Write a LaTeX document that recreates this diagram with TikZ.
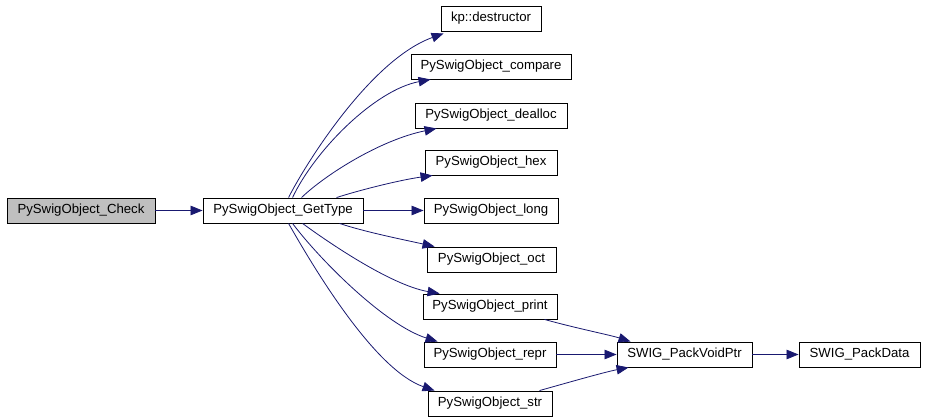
\documentclass[tikz,border=0pt]{standalone}
\usepackage{fontspec}
\setmainfont{Liberation Sans}
\usetikzlibrary{arrows.meta}
\definecolor{edgeblue}{HTML}{191970}
\definecolor{hlgray}{HTML}{BFBFBF}
\begin{document}
\begin{tikzpicture}[x=1pt,y=-1pt,
  fbox/.style={draw=black,line width=0.9pt,fill=white,inner sep=0pt,minimum height=25pt,
    font=\fontsize{13.2}{15}\selectfont},
  edge/.style={draw=edgeblue,line width=0.8pt,-{Triangle[length=12pt,width=9.5pt,fill=edgeblue]}}]
\useasboundingbox[fill=white] (0,0) rectangle (928,419);
\node[fbox,fill=hlgray,minimum width=148pt] (chk) at (81,210.5) {PySwigObject\_Check};
\node[fbox,minimum width=160pt] (gt) at (283,210.5) {PySwigObject\_GetType};
\node[fbox,minimum width=100pt] (dst) at (491,18.5) {kp::destructor};
\node[fbox,minimum width=160pt] (cmp) at (491,66.5) {PySwigObject\_compare};
\node[fbox,minimum width=152pt] (dea) at (491,115.5) {PySwigObject\_dealloc};
\node[fbox,minimum width=132pt] (hex) at (491,162.5) {PySwigObject\_hex};
\node[fbox,minimum width=134pt] (lng) at (491,210.5) {PySwigObject\_long};
\node[fbox,minimum width=129pt] (oct) at (491.5,259.5) {PySwigObject\_oct};
\node[fbox,minimum width=134pt] (prt) at (490,306.5) {PySwigObject\_print};
\node[fbox,minimum width=132pt] (rep) at (490,354.5) {PySwigObject\_repr};
\node[fbox,minimum width=124pt] (str) at (490,403.5) {PySwigObject\_str};
\node[fbox,minimum width=135pt] (pvp) at (684.5,354.5) {SWIG\_PackVoidPtr};
\node[fbox,minimum width=121pt] (pd) at (859.5,354.5) {SWIG\_PackData};

\draw[edge] (chk.east) -- (gt.west);
\draw[edge] (gt.east) -- (lng.west);
\draw[edge] (rep.east) -- (pvp.west);
\draw[edge] (pvp.east) -- (pd.west);

\draw[edge] ([xshift=86pt]gt.north west) .. controls (305,165) and (370,60) .. ([xshift=3pt,yshift=-2pt]dst.south west);
\draw[edge] ([xshift=90pt]gt.north west) .. controls (315,150) and (375,90) .. ([xshift=20pt]cmp.south west);
\draw[edge] ([xshift=99pt]gt.north west) .. controls (325,175) and (380,140) .. ([xshift=22pt]dea.south west);
\draw[edge] ([xshift=134pt]gt.north west) .. controls (360,190) and (400,180) .. ([xshift=8pt]hex.south west);
\draw[edge] ([xshift=137pt]gt.south west) .. controls (365,232) and (405,240) .. ([xshift=8pt]oct.north west);
\draw[edge] ([xshift=100pt]gt.south west) .. controls (325,240) and (390,285) .. ([xshift=17pt]prt.north west);
\draw[edge] ([xshift=90pt]gt.south west) .. controls (320,260) and (385,325) .. ([xshift=14pt]rep.north west);
\draw[edge] ([xshift=86pt]gt.south west) .. controls (315,270) and (375,370) .. ([xshift=7pt]str.north west);

\draw[edge] ([xshift=122pt]prt.south west) .. controls (575,328) and (610,335) .. ([xshift=14pt]pvp.north west);
\draw[edge] ([xshift=112pt]str.north west) .. controls (570,382) and (605,372) .. ([xshift=12pt]pvp.south west);
\end{tikzpicture}
\end{document}
